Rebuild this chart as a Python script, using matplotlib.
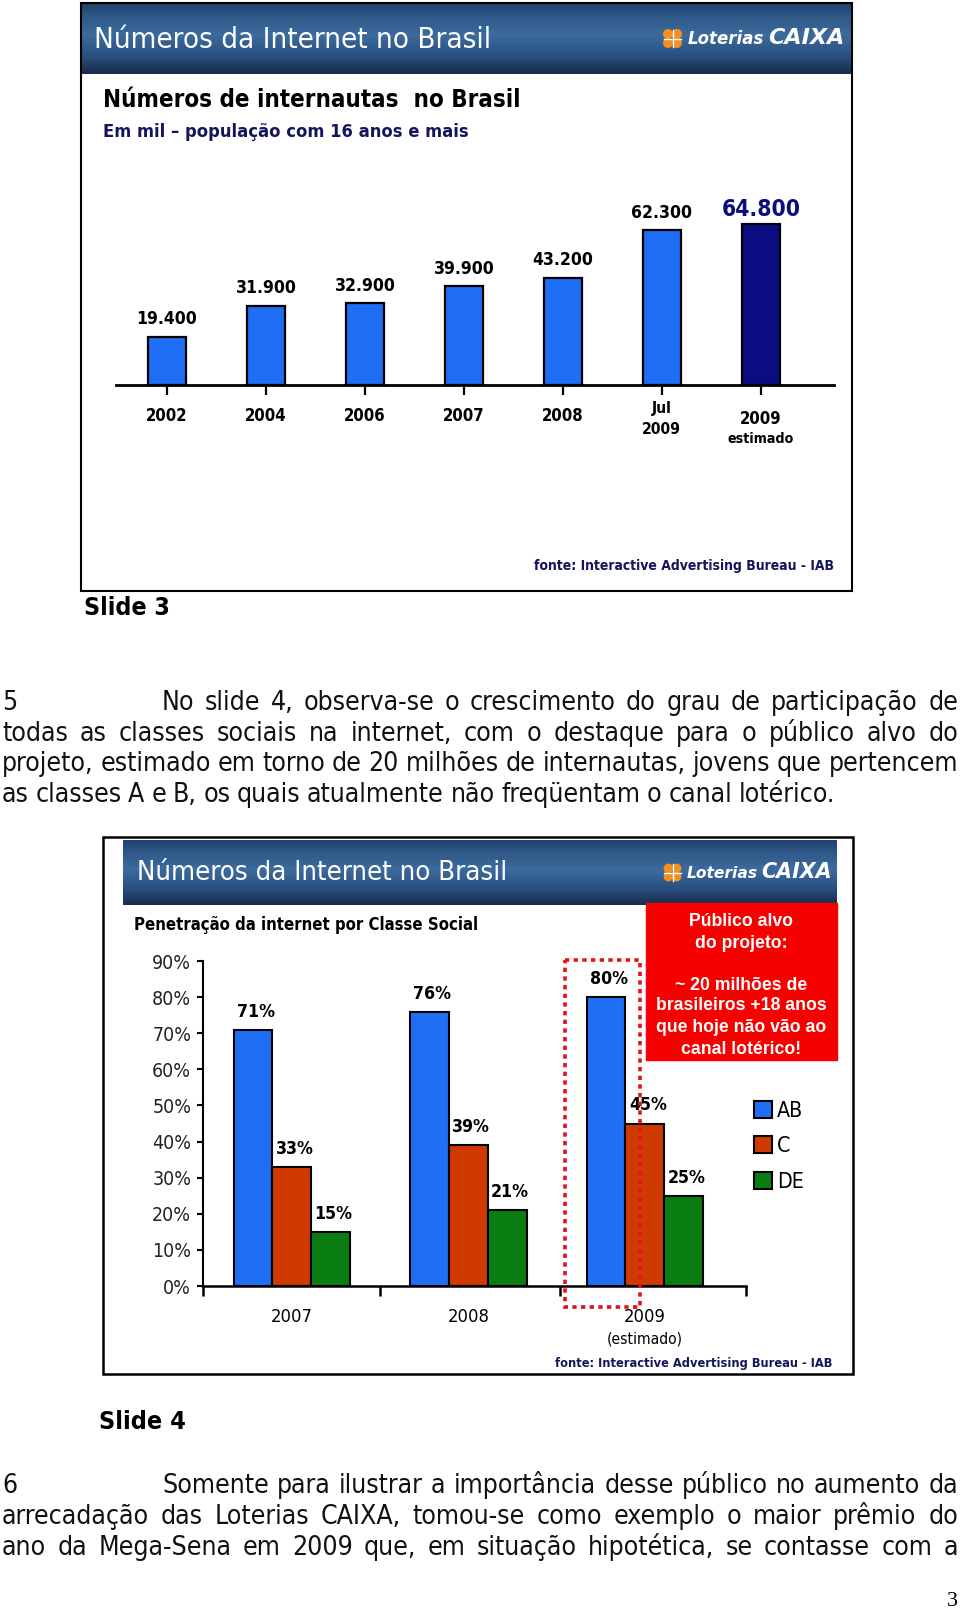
import numpy as np
import matplotlib
matplotlib.use('Agg')
import matplotlib.pyplot as plt
from matplotlib import font_manager as fm
from matplotlib.patches import Rectangle, Circle
from matplotlib.colors import LinearSegmentedColormap

# ---- dados do slide 3 (internautas, em mil) ----
anos_slide3 = ['2002', '2004', '2006', '2007', '2008', 'Jul', '2009']
internautas_mil = [19.4, 31.9, 32.9, 39.9, 43.2, 62.3, 64.8]
rotulos_slide3 = ['19.400', '31.900', '32.900', '39.900', '43.200', '62.300', '64.800']

# ---- dados do slide 4 (penetracao por classe social, %) ----
anos_slide4 = ['2007', '2008', '2009']
classe_ab = [71, 76, 80]
classe_c = [33, 39, 45]
classe_de = [15, 21, 25]
classes = ['AB', 'C', 'DE']
ticks_pct = [0, 10, 20, 30, 40, 50, 60, 70, 80, 90]

publico_alvo = ['Público alvo', 'do projeto:', '', '~ 20 milhões de',
                'brasileiros +18 anos', 'que hoje não vão ao', 'canal lotérico!']

paragrafo5 = ['No slide 4, observa-se o crescimento do grau de participação de',
              'todas as classes sociais na internet, com o destaque para o público alvo do',
              'projeto, estimado em torno de 20 milhões de internautas, jovens que pertencem',
              'as classes A e B, os quais atualmente não freqüentam o canal lotérico.']
paragrafo6 = ['Somente para ilustrar a importância desse público no aumento da',
              'arrecadação das Loterias CAIXA, tomou-se como exemplo o maior prêmio do',
              'ano da Mega-Sena em 2009 que, em situação hipotética, se contasse com a']


# fonte estreita: a que houver
def tem(nome):
    return any(f.name == nome for f in fm.fontManager.ttflist)


if tem('Liberation Sans Narrow'):
    NARROW = dict(family=['Liberation Sans Narrow', 'DejaVu Sans'])
elif 'Condensed' in fm.findfont(fm.FontProperties(family='DejaVu Sans', stretch='condensed')):
    NARROW = dict(family=['DejaVu Sans'], stretch='condensed')
else:
    NARROW = dict(family=['Liberation Sans', 'DejaVu Sans'])
SANS = dict(family=['Liberation Sans', 'DejaVu Sans'])

AZUL = '#1e6ef6'
AZUL_ESC = '#0c0c82'
LARANJA = '#cf3a00'
VERDE = '#0a7d12'
NAVY = '#15155e'

W, H = 960, 1614
fig = plt.figure(figsize=(W / 100, H / 100), dpi=100)
fig.patch.set_facecolor('white')
rend = fig.canvas.get_renderer()

# eixo da pagina inteira, em pixels (origem no topo)
pg = fig.add_axes([0, 0, 1, 1])
pg.set_xlim(0, W)
pg.set_ylim(H, 0)
pg.axis('off')


def eixo(x0, y0, x1, y1):
    a = fig.add_axes([x0 / W, 1 - y1 / H, (x1 - x0) / W, (y1 - y0) / H])
    a.patch.set_visible(False)
    return a


def ajusta(t, largura):
    w = t.get_window_extent(rend).width
    t.set_fontsize(t.get_fontsize() * largura / w)
    return t


def tamanho(texto, largura, **kw):
    t = pg.text(0, 0, texto, fontsize=10, **kw)
    w = t.get_window_extent(rend).width
    t.remove()
    return 10 * largura / w


cmap_cab = LinearSegmentedColormap.from_list('cab', [(0, '#21426c'), (0.18, '#2e5887'),
                                                     (0.45, '#3c6b9e'), (0.75, '#2a4f7e'),
                                                     (1, '#172c4b')])


def cabecalho(x0, x1, y0, y1, titulo_larg, escala):
    grad = np.linspace(0, 1, 100).reshape(-1, 1)
    pg.imshow(grad, extent=(x0, x1, y1, y0), cmap=cmap_cab, aspect='auto', zorder=1)
    t = pg.text(x0 + 14, (y0 + y1) / 2 + 1, 'Números da Internet no Brasil', color='white',
                fontsize=20, va='center', ha='left', zorder=3, **NARROW)
    ajusta(t, titulo_larg)
    # logo Loterias CAIXA
    cx, cy = 672.5, (y0 + y1) / 2
    r = 4.4 * escala
    for dx, dy in [(-1, -1), (1, -1), (-1, 1), (1, 1)]:
        pg.add_patch(Circle((cx + dx * r, cy + dy * r), r, color='#f5901e', zorder=3))
    pg.plot([cx - 2 * r, cx + 2 * r], [cy, cy], color='white', lw=1, zorder=4)
    pg.plot([cx, cx], [cy - 2 * r, cy + 2 * r], color='white', lw=1, zorder=4)
    t1 = pg.text(cx + 15 * escala, cy + 1, 'Loterias', color='white', family='DejaVu Sans',
                 weight='bold', style='italic', fontsize=12 * escala, va='center', zorder=3)
    w1 = t1.get_window_extent(rend).width
    pg.text(cx + 15 * escala + w1 + 4 * escala, cy, 'CAIXA', color='white', family='DejaVu Sans',
            weight='bold', style='italic', fontsize=16 * escala, va='center', zorder=3)


def justifica(linha, x0, x1, yb, tam, ultima=False):
    palavras = linha.split()
    objs = [pg.text(0, yb, p, fontsize=tam, va='baseline', color='#111111', **NARROW)
            for p in palavras]
    larg = [o.get_window_extent(rend).width for o in objs]
    if ultima:
        gap = tam * 100 / 72 * 0.25
    else:
        gap = (x1 - x0 - sum(larg)) / (len(palavras) - 1)
    x = x0
    for o, w in zip(objs, larg):
        o.set_x(x)
        x += w + gap


# ================= slide 3 =================
pg.add_patch(Rectangle((81, 3), 771, 588, fill=False, ec='black', lw=1.5, zorder=2))
cabecalho(80, 851, 3, 74, 397, 1.0)
t = pg.text(103, 100, 'Números de internautas  no Brasil', weight='bold',
            fontsize=18, va='center', color='black', **NARROW)
ajusta(t, 418)
t = pg.text(103, 132, 'Em mil – população com 16 anos e mais', weight='bold',
            fontsize=14, va='center', color=NAVY, **NARROW)
ajusta(t, 368)

ax1 = eixo(116, 385 - 2.48 * 70, 834, 385)
x1 = np.arange(len(internautas_mil))
cores1 = [AZUL] * (len(internautas_mil) - 1) + [AZUL_ESC]
ax1.bar(x1, internautas_mil, width=0.385, color=cores1, edgecolor='black', linewidth=1.6, zorder=2)
ax1.set_xlim(-0.515, 6.74)
ax1.set_ylim(0, 70)
for s in ['left', 'right', 'top']:
    ax1.spines[s].set_visible(False)
ax1.spines['bottom'].set_linewidth(2)
ax1.set_yticks([])
ax1.set_xticks(x1)
ax1.tick_params(axis='x', length=7, width=1.6, labelbottom=False)

fs_val1 = tamanho('19.400', 61, weight='bold', **NARROW)
fs_ano1 = tamanho('2002', 42, weight='bold', **NARROW)
fs_peq1 = tamanho('estimado', 66, weight='bold', **NARROW)
for i, (v, r) in enumerate(zip(internautas_mil, rotulos_slide3)):
    if i == len(internautas_mil) - 1:
        ax1.annotate(r, (i, v), xytext=(0, 15 * 0.72), textcoords='offset points', ha='center',
                     va='center', weight='bold', fontsize=fs_val1 * 1.3, color=AZUL_ESC, **NARROW)
    else:
        ax1.annotate(r, (i, v), xytext=(0, 17.5 * 0.72), textcoords='offset points', ha='center',
                     va='center', weight='bold', fontsize=fs_val1, color='black', **NARROW)

for i, ano in enumerate(anos_slide3):
    kw = dict(xycoords='data', textcoords='offset points', ha='center', va='center',
              weight='bold', color='black', **NARROW)
    if ano == 'Jul':
        ax1.annotate('Jul', (i, 0), xytext=(0, -23.5 * 0.72), fontsize=fs_peq1 * 1.1, **kw)
        ax1.annotate('2009', (i, 0), xytext=(0, -44 * 0.72), fontsize=fs_peq1 * 1.1, **kw)
    elif i == len(anos_slide3) - 1:
        ax1.annotate(ano, (i, 0), xytext=(0, -34 * 0.72), fontsize=fs_ano1, **kw)
        ax1.annotate('estimado', (i, 0), xytext=(0, -54 * 0.72), fontsize=fs_peq1, **kw)
    else:
        ax1.annotate(ano, (i, 0), xytext=(0, -31 * 0.72), fontsize=fs_ano1, **kw)

t = pg.text(834, 566, 'fonte: Interactive Advertising Bureau - IAB',
            weight='bold', fontsize=10, va='center', ha='right', color=NAVY, **NARROW)
ajusta(t, 300)
t = pg.text(84, 608, 'Slide 3', weight='bold', fontsize=17, va='center', **NARROW)
ajusta(t, 86)

# ================= paragrafo 5 =================
fs_par = tamanho(paragrafo5[-1], 851, **NARROW)
base5 = [710, 741, 771, 802]
pg.text(2, base5[0], '5', fontsize=fs_par, va='baseline', color='#111111', **NARROW)
for k, (linha, yb) in enumerate(zip(paragrafo5, base5)):
    x0 = 162 if k == 0 else 2
    justifica(linha, x0, 958, yb, fs_par, ultima=(k == len(paragrafo5) - 1))

# ================= slide 4 =================
pg.add_patch(Rectangle((103, 837), 750, 537, fill=False, ec='black', lw=1.8, zorder=2))
cabecalho(123, 837, 840, 905, 369, 0.93)

t = pg.text(134, 925, 'Penetração da internet por Classe Social', weight='bold',
            fontsize=13, va='center', **NARROW)
ajusta(t, 345)

# caixa vermelha
pg.add_patch(Rectangle((646, 903), 191, 157, color='#f70000', zorder=2))
fs_box = tamanho('brasileiros +18 anos', 170, weight='bold', **SANS)
ys_box = [921, 943, 964, 985, 1006, 1028, 1050]
for linha, yy in zip(publico_alvo, ys_box):
    pg.text(741, yy, linha, weight='bold', fontsize=fs_box, color='white',
            ha='center', va='center', zorder=3, **SANS)

ax2 = eixo(203, 961, 746, 1286)
x2 = np.arange(len(anos_slide4))
lb = 0.22
fs_val2 = tamanho('71%', 38, weight='bold', **NARROW)
for k, (vals, cor) in enumerate(zip([classe_ab, classe_c, classe_de], [AZUL, LARANJA, VERDE])):
    pos = x2 + (k - 1) * lb
    ax2.bar(pos, vals, width=lb, color=cor, edgecolor='black', linewidth=1.5, zorder=2,
            label=classes[k])
    for p, v in zip(pos, vals):
        ax2.annotate(f'{v}%', (p, v), xytext=(3 * 0.72, 18 * 0.72), textcoords='offset points',
                     ha='center', va='center', weight='bold', fontsize=fs_val2, **NARROW)
ax2.set_xlim(-0.503, 2.573)
ax2.set_ylim(0, 90)
ax2.spines['top'].set_visible(False)
ax2.spines['right'].set_visible(False)
ax2.spines['left'].set_linewidth(1.5)
ax2.spines['bottom'].set_linewidth(1.8)
ax2.set_yticks(ticks_pct)
fs_tick2 = tamanho('90%', 39, **NARROW)
ax2.set_yticklabels([f'{v}%' for v in ticks_pct], fontsize=fs_tick2, color='#222222', **NARROW)
ax2.tick_params(axis='y', length=4.5, width=1.5, pad=4)
ax2.set_xticks([])
ax2.set_xticks([-0.503, 0.5, 1.52, 2.573], minor=True)
ax2.tick_params(axis='x', which='minor', length=7.5, width=1.8)
fs_cat2 = tamanho('2007', 42, **NARROW)
for i, ano in enumerate(anos_slide4):
    ax2.annotate(ano, (i, 0), xytext=(0, -31 * 0.72), textcoords='offset points', ha='center',
                 va='center', fontsize=fs_cat2, **NARROW)
ax2.annotate('(estimado)', (len(anos_slide4) - 1, 0), xytext=(0, -53 * 0.72),
             textcoords='offset points', ha='center', va='center',
             fontsize=fs_cat2 * 0.85, **NARROW)

fs_leg = tamanho('AB', 26, **NARROW)
hl = 18 / (fs_leg * 100 / 72)
leg = ax2.legend(loc='upper left', bbox_to_anchor=(754 / W, 1 - 1101 / H),
                 bbox_transform=fig.transFigure, frameon=False, borderpad=0, borderaxespad=0,
                 handlelength=hl, handleheight=hl, handletextpad=0.25, labelspacing=0.72,
                 prop=dict(size=fs_leg, **NARROW))

# destaque pontilhado em 2009
ax2.add_patch(Rectangle((565, 960), 75, 347, fill=False, ec='#e3121b', lw=2.6,
                        ls=(0, (1.2, 1.2)), transform=pg.transData, clip_on=False, zorder=5))

t = pg.text(832, 1363, 'fonte: Interactive Advertising Bureau - IAB',
            weight='bold', fontsize=10, va='center', ha='right', color=NAVY, **NARROW)
ajusta(t, 277)
t = pg.text(99, 1422, 'Slide 4', weight='bold', fontsize=17, va='center', **NARROW)
ajusta(t, 87)

# ================= paragrafo 6 =================
base6 = [1493, 1524, 1555]
pg.text(2, base6[0], '6', fontsize=fs_par, va='baseline', color='#111111', **NARROW)
for k, (linha, yb) in enumerate(zip(paragrafo6, base6)):
    x0 = 162 if k == 0 else 2
    justifica(linha, x0, 958, yb, fs_par)

pg.text(958, 1602, '3', family=['Liberation Serif', 'DejaVu Serif'], fontsize=16,
        ha='right', va='center')

fig.savefig('out.png', dpi=100)
